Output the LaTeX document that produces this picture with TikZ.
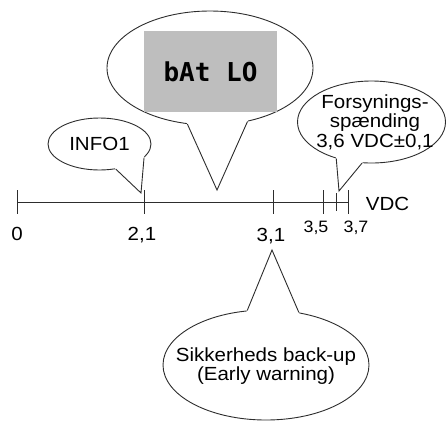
\documentclass[tikz,border=0pt]{standalone}
\usepackage{fontspec}
\setmainfont{Liberation Sans}[FakeStretch=1.08]
\newfontfamily\lcdfont{DejaVu Sans Mono}
\usetikzlibrary{shapes.geometric,calc}
\definecolor{lcdgray}{RGB}{190,190,190}
\definecolor{inkline}{RGB}{45,45,45}

\begin{document}
\begin{tikzpicture}[x=1pt, y=-1pt,
  bubble/.style={draw=inkline, ellipse, fill=white, inner sep=0pt, line width=0.9pt},
  bubbletext/.style={align=center, inner sep=0pt, font=\fontsize{19}{19.5}\selectfont},
  lcd/.style={fill=lcdgray, inner sep=0pt, font=\lcdfont\bfseries\fontsize{26}{26}\selectfont},
  tail/.style={draw=inkline, line width=0.9pt, line join=miter},
  tick/.style={draw=inkline, line width=0.9pt},
  lbl/.style={anchor=base, inner sep=0pt, font=\fontsize{19}{19}\selectfont},
  smalllbl/.style={anchor=base, inner sep=0pt, font=\fontsize{16.5}{16.5}\selectfont}
]
\useasboundingbox (0,0) rectangle (446,421);

\node[bubble, minimum width=103pt, minimum height=52pt] (info) at (99.5,144) {};
\node[bubbletext] (infotext) at (info) {INFO1};
\coordinate (infotip) at (141,193);
\fill[white] ($(info.-57)!-2pt!(infotip)$) -- (infotip) -- ($(info.-17)!-2pt!(infotip)$) -- cycle;
\draw[tail] (info.-57) -- (infotip) -- (info.-17);

\node[bubble, minimum width=206pt, minimum height=114pt] (batlo) at (210,68) {};
\node[lcd, minimum width=133pt, minimum height=81pt] (lcd) at (210.5,71.5) {bAt LO};
\coordinate (batlotip) at (217,190);
\fill[white] ($(batlo.-112.5)!-2pt!(batlotip)$) -- (batlotip) -- ($(batlo.-55)!-2pt!(batlotip)$) -- cycle;
\draw[tail] (batlo.-112.5) -- (batlotip) -- (batlo.-55);

\node[bubble, minimum width=148pt, minimum height=82pt] (supply) at (371.5,122) {};
\node[bubbletext] (supplytext) at (375,122) {Forsynings-\\spænding\\3,6 VDC±0,1};
\coordinate (supplytip) at (339,191);
\fill[white] ($(supply.-134)!-2pt!(supplytip)$) -- (supplytip) -- ($(supply.-103)!-2pt!(supplytip)$) -- cycle;
\draw[tail] (supply.-134) -- (supplytip) -- (supply.-103);

\node[bubble, minimum width=206pt, minimum height=110pt] (backup) at (266,365) {};
\node[bubbletext] (backuptext) at (266,366) {Sikkerheds back-up\\(Early warning)};
\coordinate (backuptip) at (272,250);
\fill[white] ($(backup.109.7)!-2pt!(backuptip)$) -- (backuptip) -- ($(backup.58.4)!-2pt!(backuptip)$) -- cycle;
\draw[tail] (backup.109.7) -- (backuptip) -- (backup.58.4);

\coordinate (axstart) at (17,202);
\coordinate (axend) at (348,202);
\draw[tick] (axstart) -- (axend);
\foreach \x in {17,144,273,323,348}
  \draw[tick] (\x,190) -- (\x,214);
\draw[tick] (336,193) -- (336,211);

\node[lbl] (v0) at (17,240) {0};
\node[lbl] (v21) at (142,240) {2,1};
\node[lbl] (v31) at (271,241) {3,1};
\node[smalllbl] (v35) at (316,232) {3,5};
\node[smalllbl] (v37) at (356,232) {3,7};
\node[lbl] (unit) at (387.5,210) {VDC};

\end{tikzpicture}
\end{document}
